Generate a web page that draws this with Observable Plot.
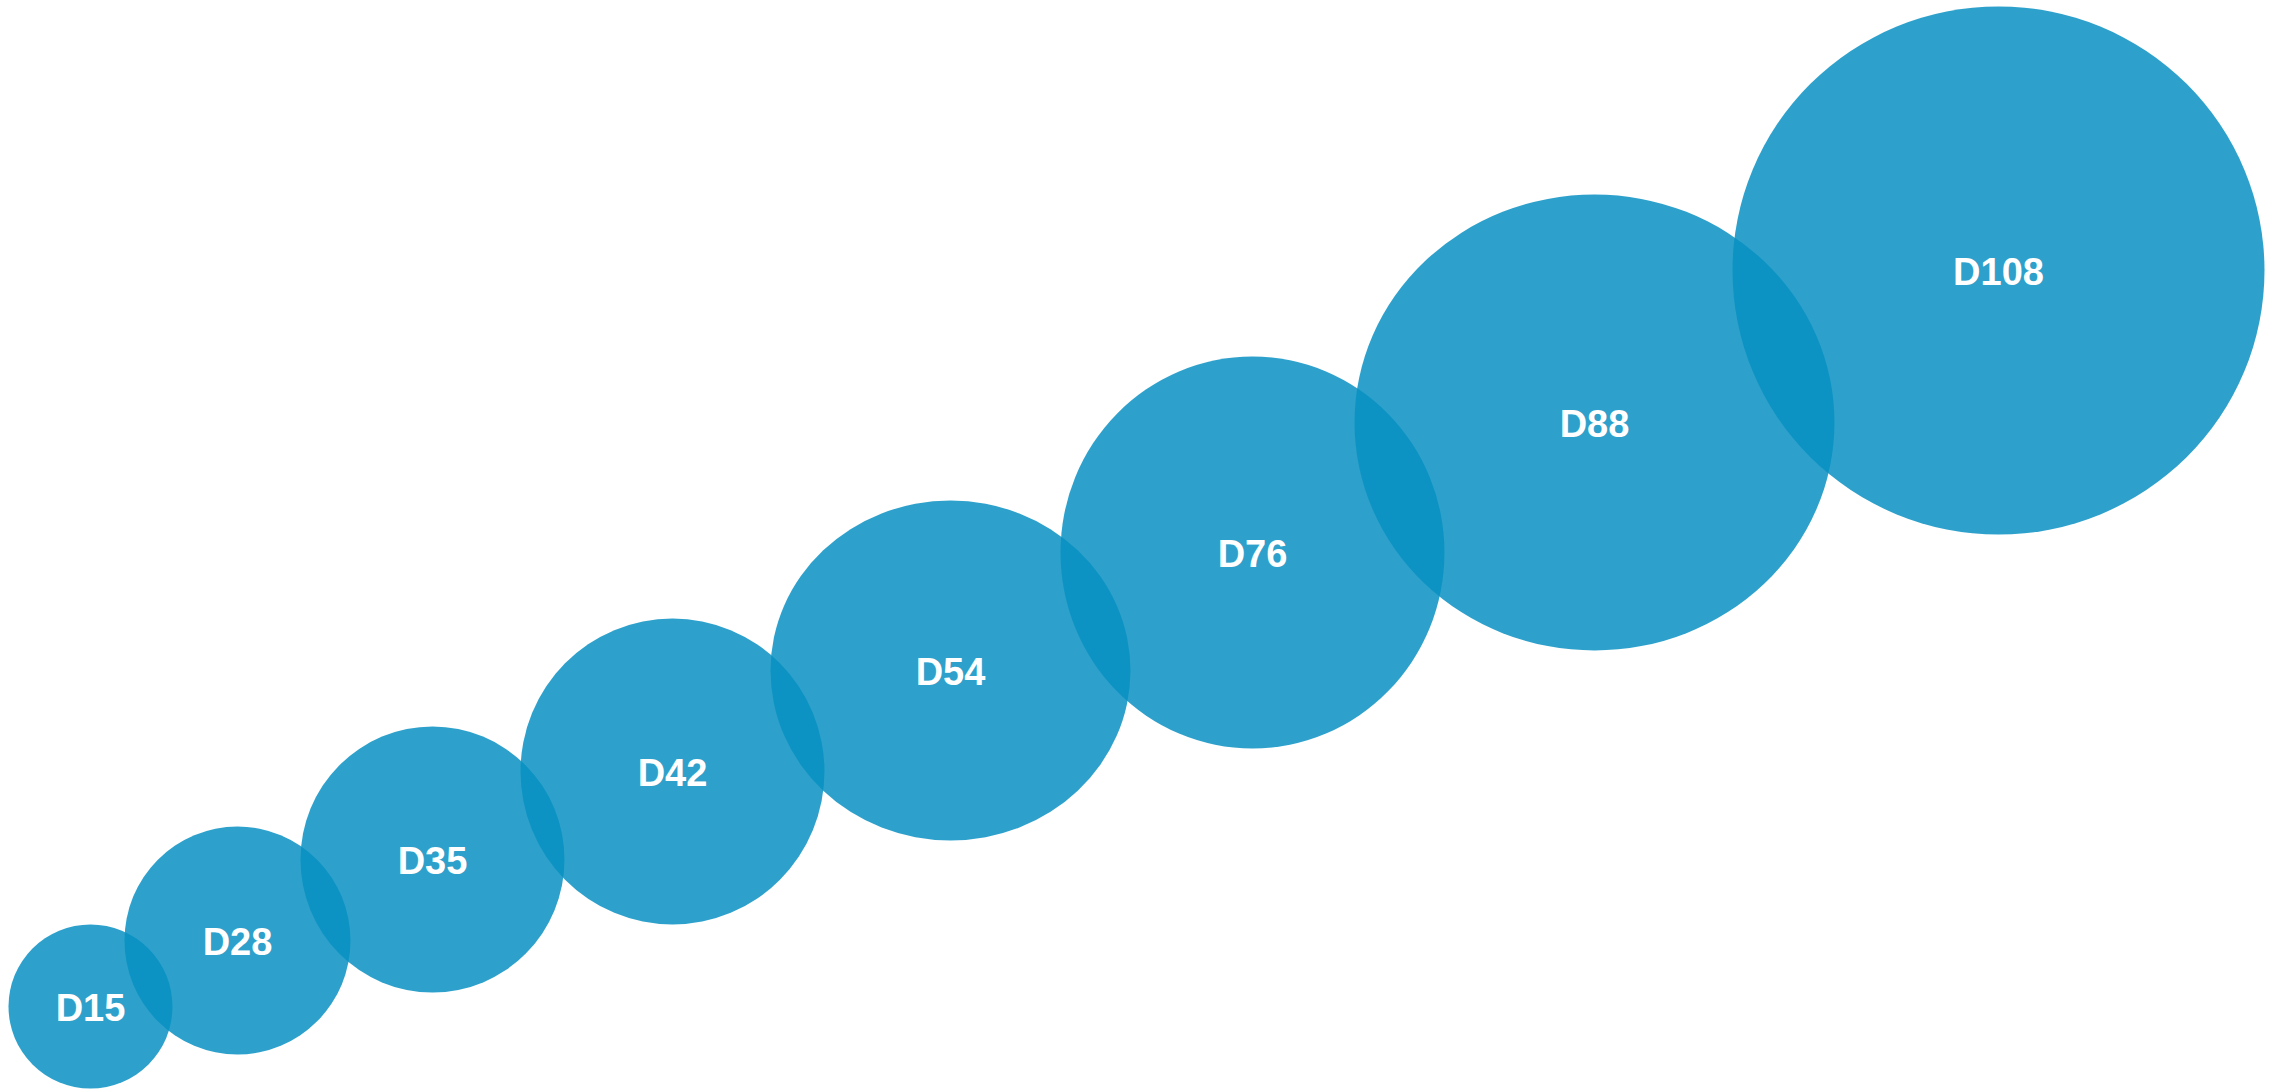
<!DOCTYPE html>
<html>
<head>
<meta charset="utf-8">
<script src="https://cdn.jsdelivr.net/npm/d3@7"></script>
<script src="https://cdn.jsdelivr.net/npm/@observablehq/plot@0.6"></script>
<style>
  html, body { margin: 0; padding: 0; background: #fff; overflow: hidden; }
  #chart svg { display: block; }
</style>
</head>
<body>
<div id="chart"></div>
<script>
// Bubble labels
const labels = ["D15", "D28", "D35", "D42", "D54", "D76", "D88", "D108"];
// Bubble centres (data units)
const xValues = [9.0, 23.7, 43.2, 67.2, 95.0, 125.2, 159.4, 199.8];
const yValues = [8.3, 14.9, 23.0, 31.8, 41.9, 53.7, 66.7, 81.9];
// Bubble sizes: horizontal and vertical radius (data units)
const sizeW = [8.2, 11.3, 13.2, 15.2, 18.0, 19.2, 24.0, 26.6];
const sizeH = [8.2, 11.4, 13.3, 15.3, 17.0, 19.6, 22.8, 26.4];

const data = labels.map((label, i) => ({
  label, x: xValues[i], y: yValues[i], w: sizeW[i], h: sizeH[i]
}));

const W = 2280, H = 1089;

const plot = Plot.plot({
  width: W,
  height: H,
  margin: 0,
  style: { background: "white" },
  x: { domain: [0, 228], axis: null },
  y: { domain: [0, 108.9], axis: null },
  r: { type: "linear", domain: [0, 30], range: [0, 300] },
  marks: [
    Plot.dot(data, {
      x: "x", y: "y", r: "w",
      fill: "#0890c2", fillOpacity: 0.85, stroke: "none",
      sort: null
    }),
    Plot.text(data, {
      x: "x", y: "y", text: "label",
      fill: "white", fontSize: 38, fontWeight: "bold",
      fontFamily: "'Liberation Sans', Arial, Helvetica, sans-serif",
      dy: 2
    })
  ]
});

// Turn each bubble into an ellipse using its own width/height ratio
d3.select(plot).selectAll("g[aria-label='dot'] circle").each(function(i) {
  const c = d3.select(this);
  const cx = +c.attr("cx") || 0, cy = +c.attr("cy") || 0;
  const d = data[i];
  if (!d) return;
  const k = d.h / d.w;
  c.attr("transform", `translate(${cx},${cy}) scale(1,${k}) translate(${-cx},${-cy})`);
});

document.getElementById("chart").appendChild(plot);
</script>
</body>
</html>
